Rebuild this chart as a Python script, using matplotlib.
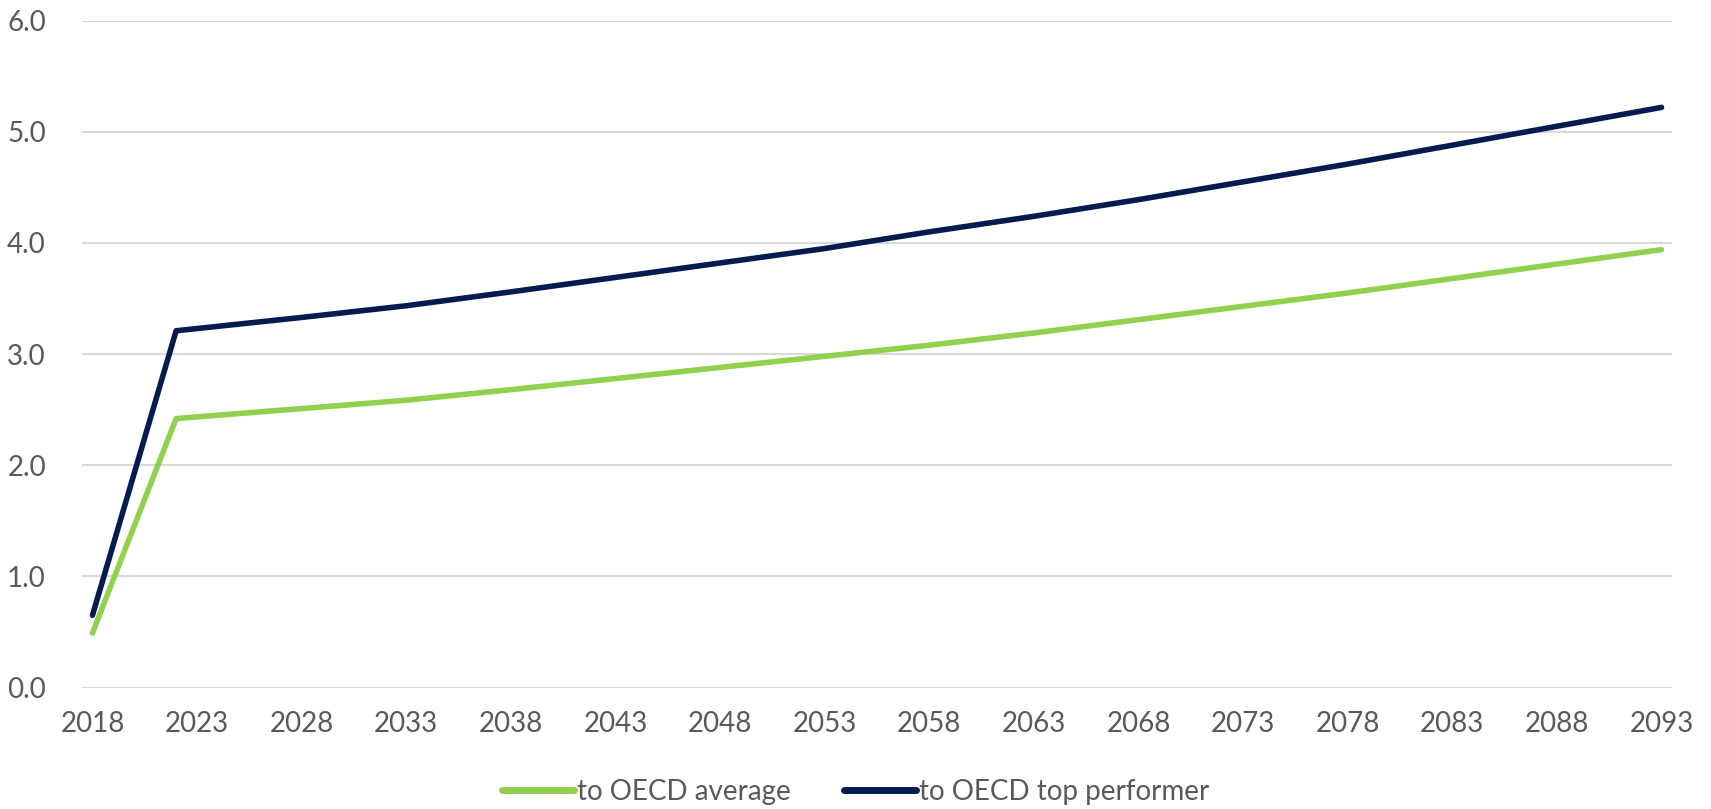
import matplotlib
matplotlib.use("Agg")
import matplotlib.pyplot as plt

years = [2018, 2022, 2023, 2028, 2033, 2038, 2043, 2048, 2053, 2058, 2063, 2068, 2073, 2078, 2083, 2088, 2093]
oecd_average = [0.49, 2.42, 2.435, 2.51, 2.585, 2.68, 2.78, 2.88, 2.98, 3.08, 3.19, 3.31, 3.43, 3.55, 3.68, 3.81, 3.94]
oecd_top = [0.65, 3.21, 3.23, 3.33, 3.435, 3.56, 3.69, 3.82, 3.95, 4.10, 4.24, 4.39, 4.55, 4.71, 4.88, 5.05, 5.22]
x_ticks = list(range(2018, 2094, 5))
y_ticks = [0, 1, 2, 3, 4, 5, 6]

plt.rcParams['font.family'] = ['Lato', 'DejaVu Sans']
text_color = '#595959'

fig = plt.figure(figsize=(17.11, 8.09), dpi=100)
ax = fig.add_axes([82/1711, 1 - 687.5/809, (1672-82)/1711, (687.5-20.7)/809])

ax.plot(years, oecd_average, color='#92D050', lw=4, solid_capstyle='round', solid_joinstyle='round', label='to OECD average')
ax.plot(years, oecd_top, color='#051A4D', lw=4, solid_capstyle='round', solid_joinstyle='round', label='to OECD top performer')

ax.set_xlim(2017.5, 2093.5)
ax.set_ylim(0, 6)
ax.set_xticks(x_ticks)
ax.set_xticklabels([str(t) for t in x_ticks])
ax.set_yticks(y_ticks)
ax.set_yticklabels([f"{v:.1f}" for v in y_ticks])
ax.tick_params(axis='both', length=0, labelsize=20, colors=text_color)
ax.tick_params(axis='y', pad=26)
ax.tick_params(axis='x', pad=17)
for s in ax.spines.values():
    s.set_visible(False)
ax.grid(axis='y', color='#D9D9D9', lw=1.5)
ax.set_axisbelow(True)

leg = fig.legend(loc='center', bbox_to_anchor=(0.5, 1 - 792/809), ncol=2, frameon=False,
                 fontsize=20, handlelength=2.6, handletextpad=0.1, columnspacing=1.9)
for t in leg.get_texts():
    t.set_color(text_color)
for h in leg.get_lines():
    h.set_linewidth(5)
    h.set_solid_capstyle('round')

fig.savefig('out.png', dpi=100)
